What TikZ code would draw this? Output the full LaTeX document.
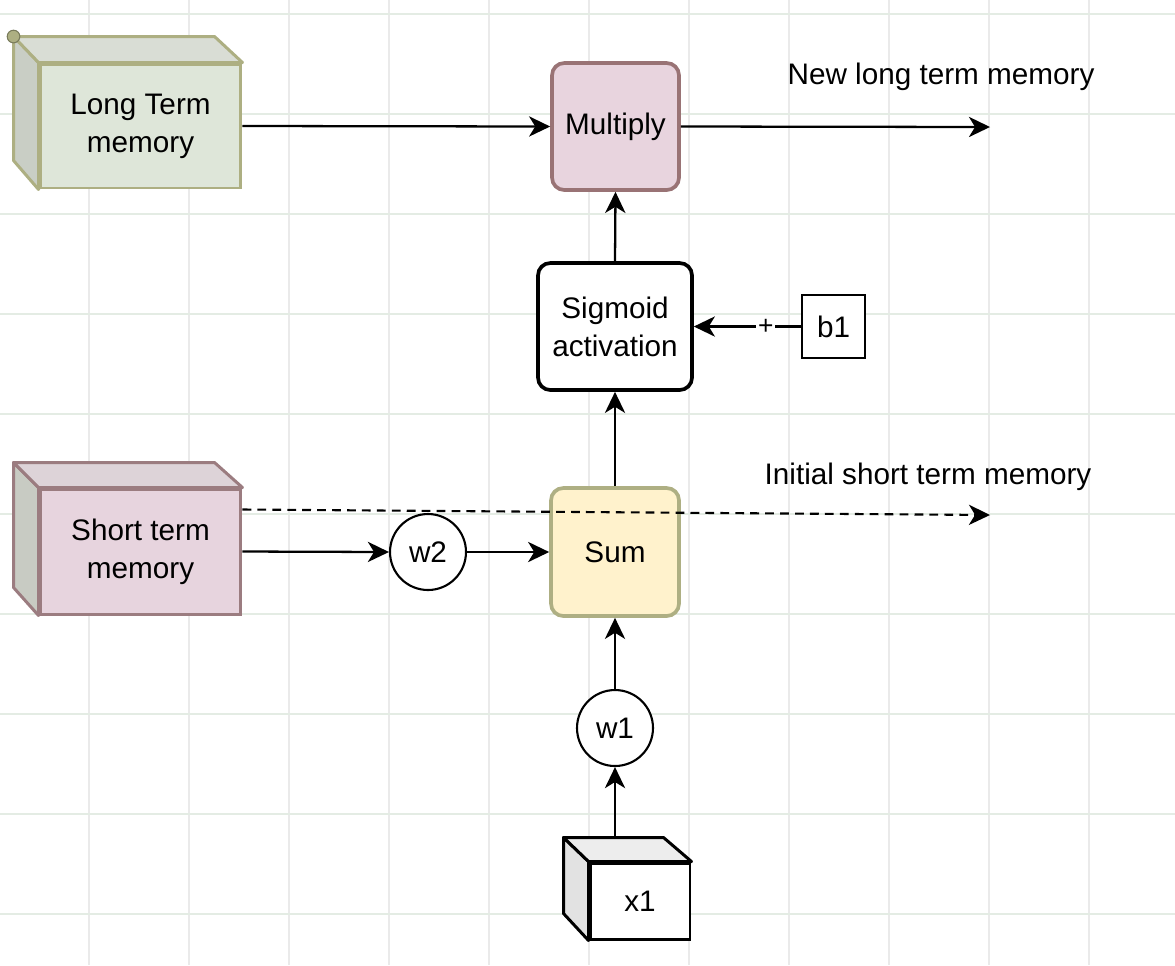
\documentclass[tikz,border=0pt]{standalone}
\usepackage{fontspec}
\setmainfont{Liberation Sans}
\usetikzlibrary{arrows.meta,calc}

\definecolor{gridv}{HTML}{EAEAEA}
\definecolor{gridh}{HTML}{E4ECE4}
\definecolor{ltmfill}{HTML}{DEE6D9}
\definecolor{ltmdraw}{HTML}{ADAF82}
\definecolor{ltmside}{HTML}{C9CEC5}
\definecolor{ltmtop}{HTML}{D9DDD5}
\definecolor{stmfill}{HTML}{E7D4DE}
\definecolor{stmdraw}{HTML}{9B7C80}
\definecolor{stmside}{HTML}{C8CBC3}
\definecolor{stmtop}{HTML}{DDD3D8}
\definecolor{multfill}{HTML}{E8D4DE}
\definecolor{multdraw}{HTML}{997375}
\definecolor{sumfill}{HTML}{FFF2CC}
\definecolor{sumdraw}{HTML}{AEAF83}
\definecolor{xside}{HTML}{E2E2E2}
\definecolor{xtop}{HTML}{EDEDED}

\tikzset{
    every node/.style={font=\fontsize{16.9}{21.5}\selectfont},
    box/.style={draw, line width=2.1pt, rounded corners=7pt, inner sep=0pt, align=center},
    cubeface/.style={draw, line width=1.7pt, inner sep=0pt, align=center},
    weight/.style={circle, draw, line width=1.2pt, minimum size=1.52cm, inner sep=0pt},
    conn/.style={->, line width=1.3pt},
}

\begin{document}
\begin{tikzpicture}[x=0.02cm,y=-0.02cm,>={Stealth[length=12pt,width=11.5pt,inset=3.5pt]}]
    \fill[white] (0,0) rectangle (1175,965);
    \useasboundingbox (0,0) rectangle (1175,965);
    % background grid
    \foreach \x in {89,189,...,1089}
    {
        \draw [gridv, line width=0.8pt] (\x,0) -- (\x,965);
    }
    \foreach \y in {14,114,...,914}
    {
        \draw [gridh, line width=0.8pt] (0,\y) -- (1175,\y);
    }

    % cubes
    \node [cubeface, fill=ltmfill, draw=ltmdraw, minimum width=4.02cm, minimum height=2.48cm] (ltm) at (140.5,126) {Long Term\\memory};
    \draw [ltmdraw, line width=1.7pt, fill=ltmside, line join=round] (ltm.north west) -- ++(-25,-26) -- ++(0,124) -- (ltm.south west) -- cycle;
    \draw [ltmdraw, line width=1.7pt, fill=ltmtop, line join=round] (ltm.north west) -- ++(-25,-26) -- ++(201,0) -- (ltm.north east) -- cycle;
    \filldraw [fill=ltmdraw, draw=ltmdraw!70!black, line width=0.6pt] ($(ltm.north west)+(-25,-26)$) circle [radius=3.6pt];

    \node [cubeface, fill=stmfill, draw=stmdraw, minimum width=4.02cm, minimum height=2.5cm] (stm) at (140.5,551.5) {Short term\\memory};
    \draw [stmdraw, line width=1.7pt, fill=stmside, line join=round] (stm.north west) -- ++(-25,-25) -- ++(0,125) -- (stm.south west) -- cycle;
    \draw [stmdraw, line width=1.7pt, fill=stmtop, line join=round] (stm.north west) -- ++(-25,-25) -- ++(201,0) -- (stm.north east) -- cycle;

    \node [cubeface, fill=white, draw=black, minimum width=2cm, minimum height=1.52cm] (x1) at (640,901) {x1};
    \draw [black, line width=1.7pt, fill=xside, line join=round] (x1.north west) -- ++(-25,-24) -- ++(0,76) -- (x1.south west) -- cycle;
    \draw [black, line width=1.7pt, fill=xtop, line join=round] (x1.north west) -- ++(-25,-24) -- ++(100,0) -- (x1.north east) -- cycle;
    \coordinate (x1top) at ($(x1.north)+(-25,-24)$);

    % operations
    \node [box, fill=multfill, draw=multdraw, minimum width=2.54cm, minimum height=2.54cm] (mult) at (615.5,126.5) {Multiply};
    \node [box, fill=white, draw=black, minimum width=3.08cm, minimum height=2.54cm] (sig) at (615,326.5) {Sigmoid\\activation};
    \node [box, fill=sumfill, draw=sumdraw, minimum width=2.56cm, minimum height=2.56cm] (sum) at (615,552) {Sum};
    \node [weight, fill=white] (w2) at (428,552) {w2};
    \node [weight, fill=white] (w1) at (615,728) {w1};
    \node [draw, fill=white, line width=1pt, minimum size=1.26cm, inner sep=0pt] (b1) at (833.5,326.5) {b1};

    % outputs
    \coordinate (ltmout) at (990,127);
    \coordinate (stmout) at (990,515);
    \node (newltm) at (941,77) {New long term memory};
    \node (initstm) at (928,477) {Initial short term memory};

    % connectors
    \draw [conn] (ltm.east) -- (mult.west);
    \draw [conn] (mult.east) -- (ltmout);
    \draw [conn] (sig.north) -- (mult.south);
    \draw [conn] (sum.north) -- (sig.south);
    \draw [conn] (b1.west) -- node [pos=0.33, fill=white, inner sep=1pt, font=\fontsize{15}{15}\selectfont] (plus) {+} (sig.east);
    \draw [conn] (stm.east) -- (w2.west);
    \draw [conn] (w2.east) -- (sum.west);
    \draw [conn] (w1.north) -- (sum.south);
    \draw [conn] (x1top) -- (w1.south);
    \draw [->, line width=1.2pt, dash pattern=on 5pt off 3.5pt] ($(stm.east)+(0,-42)$) -- (stmout);
\end{tikzpicture}
\end{document}
